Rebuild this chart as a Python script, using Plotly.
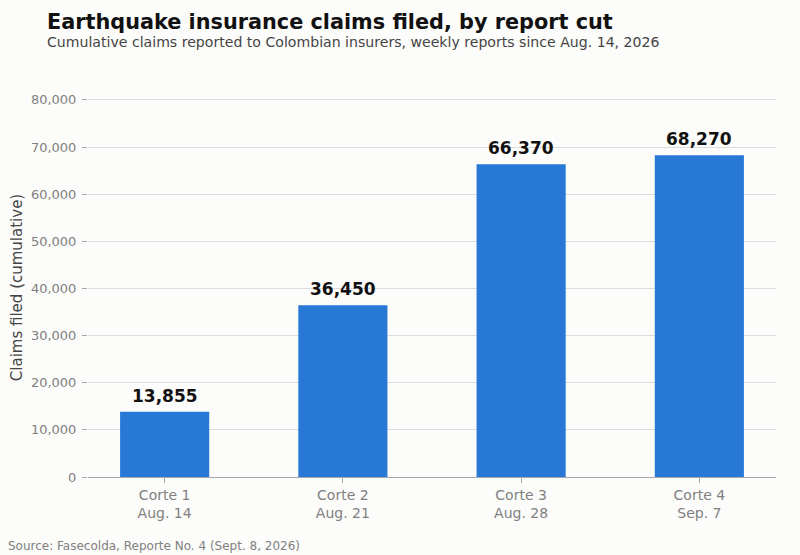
import plotly.graph_objects as go

# report cuts and cumulative claims
cortes = ["Corte 1", "Corte 2", "Corte 3", "Corte 4"]
fechas = ["Aug. 14", "Aug. 21", "Aug. 28", "Sep. 7"]
claims = [13855, 36450, 66370, 68270]

y_ticks = [0, 10000, 20000, 30000, 40000, 50000, 60000, 70000, 80000]

labels = [f"{c}<br>{f}" for c, f in zip(cortes, fechas)]
FONT = "DejaVu Sans"

fig = go.Figure(go.Bar(
    x=labels,
    y=claims,
    width=0.5,
    marker=dict(color="#2878d6", line=dict(width=0)),
    hoverinfo="x+y",
))

# value labels above bars
for lab, v in zip(labels, claims):
    fig.add_annotation(
        x=lab, y=v, text=f"<b>{v:,}</b>", showarrow=False,
        yanchor="bottom", yshift=4,
        font=dict(family=FONT, size=17, color="#111111"),
    )

fig.update_layout(
    width=800, height=555,
    paper_bgcolor="#fcfcfa", plot_bgcolor="#fcfcfa",
    margin=dict(l=88, r=24, t=98, b=78),
    font=dict(family=FONT, color="#808080"),
    showlegend=False,
)

fig.update_xaxes(
    range=[-0.43, 3.43],
    showgrid=False,
    showline=True, linecolor="#a8a8a8", linewidth=1,
    ticks="outside", ticklen=5, tickcolor="#a8a8a8",
    tickfont=dict(size=14, color="#808080"),
)
fig.update_yaxes(
    range=[0, 80400],
    tickvals=y_ticks,
    ticktext=[f"{v:,}" for v in y_ticks],
    showgrid=True, gridcolor="#dcdcdc", gridwidth=1,
    zeroline=False,
    showline=False,
    ticks="outside", ticklen=5, tickcolor="#a8a8a8",
    ticklabelstandoff=3,
    tickfont=dict(size=13, color="#808080"),
    title=dict(text="Claims filed (cumulative)", font=dict(size=15, color="#444444"), standoff=4),
)

fig.add_annotation(
    text="<b>Earthquake insurance claims filed, by report cut</b>",
    xref="paper", yref="paper", x=-0.063, y=1.0, yshift=76,
    xanchor="left", yanchor="middle", showarrow=False,
    font=dict(family=FONT, size=20.8, color="#111111"),
)
fig.add_annotation(
    text="Cumulative claims reported to Colombian insurers, weekly reports since Aug. 14, 2026",
    xref="paper", yref="paper", x=-0.063, y=1.0, yshift=56,
    xanchor="left", yanchor="middle", showarrow=False,
    font=dict(family=FONT, size=14.1, color="#444444"),
)
fig.add_annotation(
    text="Source: Fasecolda, Reporte No. 4 (Sept. 8, 2026)",
    xref="paper", yref="paper", x=-0.119, y=0, yshift=-69,
    xanchor="left", yanchor="middle", showarrow=False,
    font=dict(family=FONT, size=12, color="#808080"),
)

fig.write_html("out.html", config={"displayModeBar": False},
               post_script="document.body.style.margin='0';")
